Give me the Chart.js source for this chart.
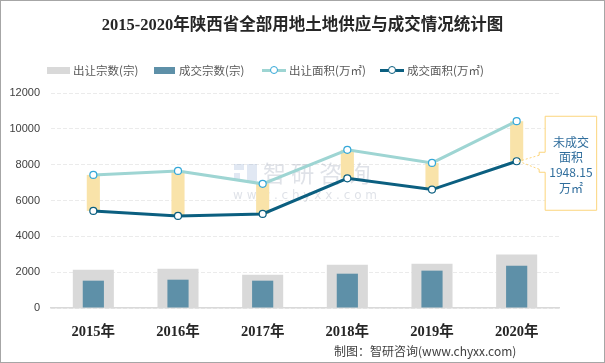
<!DOCTYPE html>
<html>
<head>
<meta charset="utf-8">
<script src="https://cdn.jsdelivr.net/npm/chart.js@4/dist/chart.umd.min.js"></script>
<style>
  html, body { margin: 0; padding: 0; background: #fff; }
  #wrap { position: relative; width: 605px; height: 363px; box-sizing: border-box; border: 1px solid #a6a6a6; overflow: hidden; }
  #c { position: absolute; left: 0; top: 0; }
  .title { position: absolute; left: 0; width: 603px; top: 10px; text-align: center;
    font: bold 16.5px 'Liberation Serif', 'Noto Sans CJK SC', serif; color: #262626; }
  .lg { position: absolute; top: 61px; height: 16px; font: 11.5px 'Noto Sans CJK SC', sans-serif; color: #595959; line-height: 16px; white-space: nowrap; }
  .sw { position: absolute; top: 5px; width: 23px; height: 7px; }
  .ln { position: absolute; top: 7px; width: 24px; height: 3px; }
  .dot { position: absolute; top: 4px; left: 8px; width: 6px; height: 6px; border-radius: 50%; background: #fff; border: 1.3px solid; }
  .foot { position: absolute; left: 333px; top: 341px; font: 12px 'Noto Sans CJK SC', sans-serif; color: #404040; white-space: nowrap; }
</style>
</head>
<body>
<div id="wrap">
  <canvas id="c" width="603" height="361"></canvas>
  <div class="title">2015-2020年陕西省全部用地土地供应与成交情况统计图</div>
  <div class="lg" style="left:46px"><span class="sw" style="left:0;background:#d9d9d9"></span><span style="margin-left:26px">出让宗数(宗)</span></div>
  <div class="lg" style="left:153px"><span class="sw" style="left:0;width:21px;background:#5e90a8"></span><span style="margin-left:25px">成交宗数(宗)</span></div>
  <div class="lg" style="left:261px"><span class="ln" style="left:0;background:#9ed5d3"></span><span class="dot" style="border-color:#35a8d8"></span><span style="margin-left:27px">出让面积(万㎡)</span></div>
  <div class="lg" style="left:379px"><span class="ln" style="left:0;background:#0b5f80"></span><span class="dot" style="border-color:#0b5f80"></span><span style="margin-left:27px">成交面积(万㎡)</span></div>
  <div class="foot">制图：智研咨询(www.chyxx.com)</div>
</div>
<script>
  // data
  const years = ['2015年', '2016年', '2017年', '2018年', '2019年', '2020年'];
  const supplyCount = [2140, 2195, 1860, 2420, 2475, 2980];   // 出让宗数(宗)
  const dealCount = [1525, 1580, 1525, 1915, 2085, 2365];     // 成交宗数(宗)
  const supplyArea = [7430, 7650, 6930, 8830, 8100, 10425];   // 出让面积(万㎡)
  const dealArea = [5420, 5140, 5250, 7240, 6610, 8190];      // 成交面积(万㎡)
  const yTicks = [0, 2000, 4000, 6000, 8000, 10000, 12000];
  const noteLines = ['未成交', '面积', '1948.15', '万㎡'];

  const gapBars = dealArea.map((v, i) => [v, supplyArea[i]]);

  const extras = {
    id: 'extras',
    beforeDatasetsDraw(chart) {
      const ctx = chart.ctx;
      ctx.save();
      ctx.fillStyle = 'rgba(150,160,180,0.3)';
      ctx.font = '23px "Noto Sans CJK SC"';
      ctx.textBaseline = 'middle';
      ctx.fillText('智 研 咨 询', 262, 172);
      ctx.font = '12px "DejaVu Sans"';
      ctx.fillText('w w w . c h y x x . c o m', 232, 195);
      // small logo block
      ctx.fillStyle = 'rgba(120,150,200,0.22)';
      ctx.fillRect(233, 163, 10, 6);
      ctx.fillRect(233, 172, 6, 8);
      ctx.fillRect(246, 163, 10, 17);
      ctx.restore();
    },
    afterDraw(chart) {
      const ctx = chart.ctx;
      const p = chart.getDatasetMeta(4).data[5];
      const ax = p.x, ay = p.y;
      const L = ax + 28.5, R = ax + 80, T = ay - 45, B = ay + 49;
      ctx.save();
      ctx.strokeStyle = '#fcd57c';
      ctx.lineWidth = 1;
      ctx.fillStyle = '#fff';
      ctx.beginPath();
      ctx.moveTo(L, T); ctx.lineTo(R, T); ctx.lineTo(R, B); ctx.lineTo(L, B);
      ctx.lineTo(L, ay + 11); ctx.lineTo(L - 6, ay + 11); ctx.lineTo(L - 6, ay + 8);
      ctx.moveTo(L - 6, ay - 6); ctx.lineTo(L - 6, ay - 9); ctx.lineTo(L, ay - 9); ctx.lineTo(L, T);
      ctx.fill();
      ctx.stroke();
      ctx.setLineDash([2, 2]);
      ctx.beginPath();
      ctx.moveTo(L - 6, ay - 6); ctx.lineTo(ax + 2, ay);
      ctx.moveTo(L - 6, ay + 8); ctx.lineTo(ax + 2, ay);
      ctx.stroke();
      ctx.setLineDash([]);
      ctx.fillStyle = '#2f6d9c';
      ctx.font = '12px "Noto Sans CJK SC"';
      ctx.textAlign = 'center';
      ctx.textBaseline = 'middle';
      noteLines.forEach((t, i) => ctx.fillText(t, (L + R) / 2, T + 26 + i * 15.3));
      ctx.restore();
    }
  };

  new Chart(document.getElementById('c'), {
    data: {
      labels: years,
      datasets: [
        { type: 'bar', label: '出让宗数(宗)', data: supplyCount, backgroundColor: '#d9d9d9', grouped: false, categoryPercentage: 1, barPercentage: 0.485, order: 5 },
        { type: 'bar', label: '成交宗数(宗)', data: dealCount, backgroundColor: '#5e90a8', grouped: false, categoryPercentage: 1, barPercentage: 0.25, order: 4 },
        { type: 'bar', label: 'gap', data: gapBars, backgroundColor: '#f9e3a9', grouped: false, categoryPercentage: 1, barPercentage: 0.155, order: 3 },
        { type: 'line', label: '出让面积(万㎡)', data: supplyArea, borderColor: '#9ed5d3', borderWidth: 3, pointRadius: 3.5, pointBorderWidth: 1.2, pointBackgroundColor: '#fff', pointBorderColor: '#35a8d8', tension: 0, order: 1 },
        { type: 'line', label: '成交面积(万㎡)', data: dealArea, borderColor: '#0b5f80', borderWidth: 3, pointRadius: 3.5, pointBorderWidth: 1.2, pointBackgroundColor: '#fff', pointBorderColor: '#0b5f80', tension: 0, order: 0 }
      ]
    },
    options: {
      responsive: false, animation: false,
      layout: { padding: { left: 0, top: 92, right: 45, bottom: 0 } },
      plugins: { legend: { display: false }, tooltip: { enabled: false } },
      scales: {
        x: {
          grid: { display: false }, border: { color: '#d9d9d9', width: 1.5 },
          ticks: { color: '#262626', font: { family: "'Liberation Serif', 'Noto Sans CJK SC'", size: 14.5, weight: 'bold' }, padding: 8 },
          afterFit: s => { s.height = 54; }
        },
        y: {
          min: 0, max: 12000,
          afterBuildTicks: s => { s.ticks = yTicks.map(v => ({ value: v })); },
          grid: { color: '#ebebeb', drawTicks: false }, border: { display: false, dash: [4, 2] },
          ticks: { color: '#404040', font: { family: "'Liberation Sans'", size: 11 }, padding: 11, callback: v => String(v) },
          afterFit: s => { s.width = 50; }
        }
      }
    },
    plugins: [extras]
  });
</script>
</body>
</html>
